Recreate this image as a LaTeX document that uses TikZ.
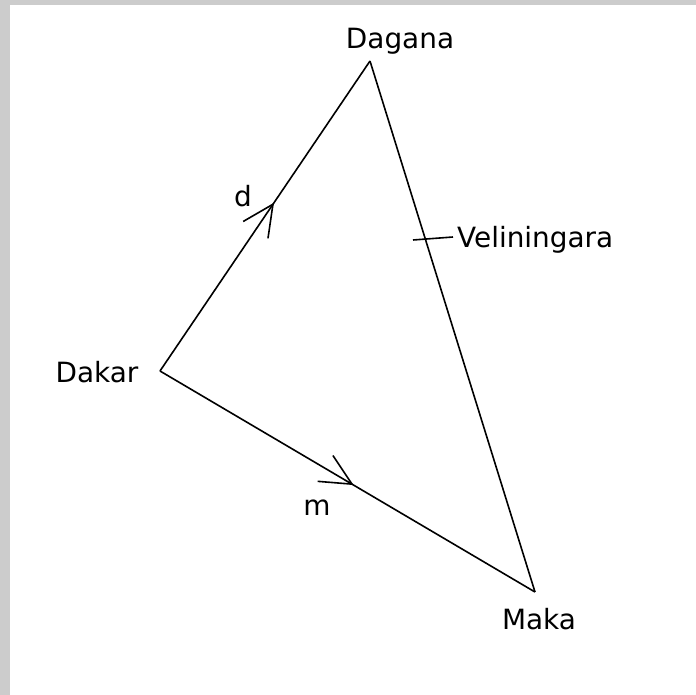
\documentclass[tikz,border=0pt]{standalone}
\usepackage{fontspec}
\setmainfont{DejaVu Sans}
\usetikzlibrary{decorations.markings}
\begin{document}
\begin{tikzpicture}[x=1bp,y=-1bp,
  edge/.style={line width=1.6bp, black},
  lbl/.style={font=\fontsize{28}{33}\selectfont, inner sep=0pt},
  midarrow/.style={postaction={decorate},decoration={markings,
    mark=at position #1 with {\draw[line width=1.6bp] (-31bp,15bp) -- (0,0) -- (-31bp,-15bp);}}}]
\useasboundingbox (0,0) rectangle (696,695);
\fill[gray!40] (0,0) rectangle (696,695);
\fill[white] (10,5) rectangle (696,695);
\coordinate (Dg) at (370,61);
\coordinate (Dk) at (160,371);
\coordinate (Mk) at (535,592);
\coordinate (t1) at (413,240);
\coordinate (t2) at (453,237);
\draw[edge, midarrow=0.538] (Dk) -- (Dg);
\draw[edge, midarrow=0.512] (Dk) -- (Mk);
\draw[edge] (Dg) -- (Mk);
\draw[edge] (t1) -- (t2);
\node[lbl] (lDg) at (400,41) {Dagana};
\node[lbl] (ld) at (243,196) {d};
\node[lbl, anchor=west] (lV) at (457,240) {Veliningara};
\node[lbl] (lDk) at (97,372) {Dakar};
\node[lbl] (lm) at (317,508) {m};
\node[lbl] (lMk) at (539,619) {Maka};
\end{tikzpicture}
\end{document}
